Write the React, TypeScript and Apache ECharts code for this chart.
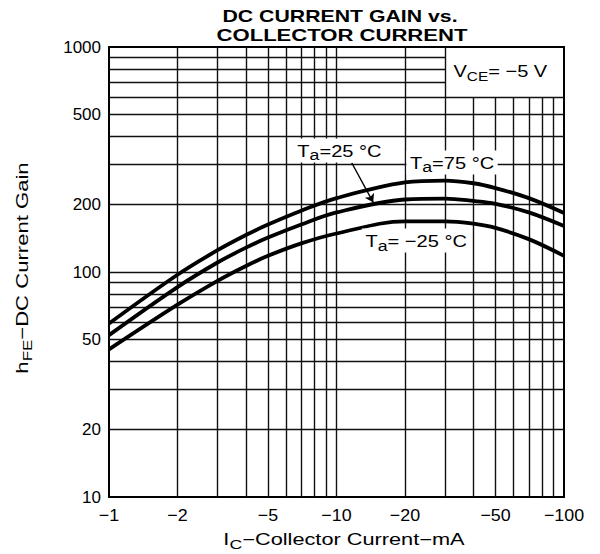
import React, { useEffect, useRef } from "react";
import * as echarts from "echarts";

// Collector current magnitude (mA); the axis shows them as negative values
const currentMA = [1, 2, 3, 4, 5, 7, 10, 20, 30, 40, 50, 70, 100];
const gainTa75 = [59, 97.2, 125, 146, 162.6, 187.3, 213, 250, 255, 248, 236, 213, 183];
const gainTa25 = [52.4, 85.7, 110.2, 128.3, 142.2, 162.6, 184, 210, 212, 207, 201, 184, 160];
const gainTaM25 = [45.3, 71.6, 91.4, 106.4, 118, 134, 148.3, 168, 168, 164, 157, 140, 118];

const xGridValues = [2, 3, 4, 5, 6, 7, 8, 9, 10, 20, 30, 40, 50, 60, 70, 80, 90];
const yGridValues = [20, 30, 40, 50, 60, 70, 80, 90, 100, 200, 300, 400, 500, 600, 700, 800, 900];
const xTickLabels = [1, 2, 5, 10, 20, 50, 100];
const yTickLabels = [10, 20, 50, 100, 200, 500, 1000];
// lower-left corner (data coords) of the note box "VCE = -5 V"
const noteBoxCorner = [30, 600];

// annotation anchors in data coordinates
const curveLabels = [
  { text: "T{s|a}=25 °C", at: [10.3, 347] },
  { text: "T{s|a}=75 °C", at: [32.2, 307] },
  { text: "T{s|a}= −25 °C", at: [22.4, 138] },
];
const arrowFrom = [11.66, 306];
const arrowTo = [14.5, 204];
const noteAt = [52.5, 780];

const FONT = '"Liberation Sans", Arial, Helvetica, sans-serif';

type TxtOpts = {
  scaleX?: number;
  rotation?: number;
  bold?: boolean;
  align?: string;
  bg?: string;
  padding?: number[];
  subSize?: number;
};

function txt(text: string, x: number, y: number, size: number, o: TxtOpts = {}) {
  const sub = o.subSize ?? size - 3;
  return {
    type: "text",
    x,
    y,
    z: 100,
    silent: true,
    scaleX: o.scaleX ?? 1,
    rotation: o.rotation ?? 0,
    style: {
      text,
      fontFamily: FONT,
      fontSize: size,
      fontWeight: o.bold ? "bold" : "normal",
      fill: "#000",
      align: o.align ?? "center",
      verticalAlign: "middle",
      textAlign: o.align ?? "center",
      textVerticalAlign: "middle",
      lineHeight: size + 6,
      backgroundColor: o.bg,
      padding: o.padding,
      rich: {
        s: {
          fontFamily: FONT,
          fontSize: sub,
          lineHeight: sub,
          verticalAlign: "bottom",
          fill: "#000",
        },
      },
    },
  };
}

export default function App() {
  const ref = useRef<HTMLDivElement>(null);

  useEffect(() => {
    const el = ref.current!;
    const chart = echarts.init(el, null, { renderer: "svg" });
    const [bx, by] = noteBoxCorner;

    const gridLines: any[] = [];
    xGridValues.forEach((v) =>
      gridLines.push([{ coord: [v, 10] }, { coord: [v, v > bx ? by : 1000] }])
    );
    yGridValues.forEach((v) =>
      gridLines.push([{ coord: [1, v] }, { coord: [v > by ? bx : 100, v] }])
    );

    const curve = (name: string, ys: number[]) => ({
      type: "line",
      name,
      data: currentMA.map((x, i) => [x, ys[i]]),
      smooth: 0.35,
      symbol: "none",
      silent: true,
      z: 3,
      lineStyle: { color: "#000", width: 3.8 },
    });

    chart.setOption({
      animation: false,
      backgroundColor: "#fff",
      grid: {
        left: 109,
        right: 36,
        top: 47,
        bottom: 57,
        show: true,
        borderColor: "#000",
        borderWidth: 2,
      },
      xAxis: {
        type: "log",
        logBase: 10,
        min: 1,
        max: 100,
        axisLine: { show: false },
        axisTick: { show: false },
        axisLabel: { show: false },
        splitLine: { show: false },
      },
      yAxis: {
        type: "log",
        logBase: 10,
        min: 10,
        max: 1000,
        axisLine: { show: false },
        axisTick: { show: false },
        axisLabel: { show: false },
        splitLine: { show: false },
      },
      series: [
        {
          type: "line",
          name: "grid",
          data: [],
          silent: true,
          markLine: {
            silent: true,
            z: 1,
            symbol: ["none", "none"],
            label: { show: false },
            emphasis: { disabled: true },
            lineStyle: { color: "#111", width: 1.4, type: "solid" },
            data: gridLines,
          },
        },
        curve("Ta=75 °C", gainTa75),
        curve("Ta=25 °C", gainTa25),
        curve("Ta=-25 °C", gainTaM25),
        {
          type: "line",
          name: "arrow",
          data: [],
          silent: true,
          markLine: {
            silent: true,
            z: 6,
            symbol: ["none", "arrow"],
            symbolSize: 8,
            label: { show: false },
            emphasis: { disabled: true },
            lineStyle: { color: "#000", width: 1.4, type: "solid" },
            data: [[{ coord: arrowFrom }, { coord: arrowTo }]],
          },
        },
      ],
    });

    const px = (x: number, y: number) =>
      chart.convertToPixel({ gridIndex: 0 }, [x, y]) as number[];

    const elements: any[] = [];
    xTickLabels.forEach((v) => {
      const p = px(v, 10);
      elements.push(txt("−" + v, p[0], p[1] + 18, 17, { scaleX: 1.05 }));
    });
    yTickLabels.forEach((v) => {
      const p = px(1, v);
      elements.push(txt(String(v), p[0] - 8, p[1], 17, { align: "right" }));
    });
    curveLabels.forEach((l) => {
      const p = px(l.at[0], l.at[1]);
      elements.push(
        txt(l.text, p[0], p[1], 17, { scaleX: 1.18, bg: "#fff", padding: [1, 3, 0, 3], subSize: 15 })
      );
    });
    const np = px(noteAt[0], noteAt[1]);
    elements.push(txt("V{s|CE}= −5 V", np[0], np[1], 17, { scaleX: 1.18, subSize: 13 }));

    elements.push(txt("DC CURRENT GAIN vs.", 340, 16, 16, { bold: true, scaleX: 1.33 }));
    elements.push(txt("COLLECTOR CURRENT", 342, 36, 16, { bold: true, scaleX: 1.38 }));
    elements.push(txt("I{s|C}−Collector Current−mA", 344, 540, 16, { scaleX: 1.36, subSize: 13 }));
    elements.push(
      txt("h{s|FE}−DC Current Gain", 22, 268, 17, { scaleX: 1.3, rotation: Math.PI / 2, subSize: 13 })
    );

    chart.setOption({ graphic: { elements } });

    return () => chart.dispose();
  }, []);

  return (
    <div
      ref={ref}
      style={{ position: "fixed", left: 0, top: 0, width: 600, height: 554, background: "#fff" }}
    />
  );
}
